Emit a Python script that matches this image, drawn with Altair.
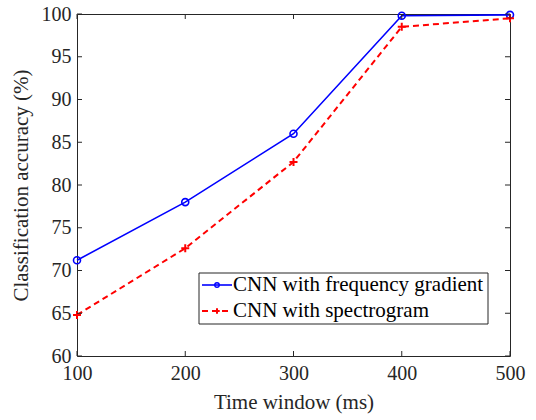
import altair as alt
import pandas as pd

time_window = [100, 200, 300, 400, 500]
acc_freq_grad = [71.2, 78.0, 86.0, 99.8, 99.9]
acc_spectrogram = [64.8, 72.6, 82.7, 98.5, 99.5]
x_ticks = [100, 200, 300, 400, 500]
y_ticks = [60, 65, 70, 75, 80, 85, 90, 95, 100]
series_names = ["CNN with frequency gradient", "CNN with spectrogram"]

W, H = 433, 342
FONT = "Liberation Serif, Times New Roman, DejaVu Serif, serif"
AX = "#262626"
BLUE = "#0000FF"
RED = "#FF0000"
PLUS = "M-1,0L1,0M0,-1L0,1"

df1 = pd.DataFrame({"t": time_window, "acc": acc_freq_grad})
df2 = pd.DataFrame({"t": time_window, "acc": acc_spectrogram})
dfx = pd.DataFrame({"t": x_ticks})
dfy = pd.DataFrame({"acc": y_ticks})

xs = alt.Scale(domain=[100, 500], nice=False)
ys = alt.Scale(domain=[60, 100], nice=False)

x_enc = alt.X("t:Q", scale=xs, axis=alt.Axis(values=x_ticks, title="Time window (ms)", format="d",
                                            labelFlush=False, labelPadding=7, titlePadding=8))
y_enc = alt.Y("acc:Q", scale=ys, axis=alt.Axis(values=y_ticks, title="Classification accuracy (%)", format="d",
                                              labelFlush=False, labelPadding=6, titlePadding=10))

line1 = alt.Chart(df1).mark_line(color=BLUE, strokeWidth=1.6).encode(x=x_enc, y=y_enc)
pts1 = alt.Chart(df1).mark_point(shape="circle", color=BLUE, filled=False, size=49, strokeWidth=1.6, opacity=1).encode(x="t:Q", y="acc:Q")
line2 = alt.Chart(df2).mark_line(color=RED, strokeWidth=2, strokeDash=[6, 4]).encode(x="t:Q", y="acc:Q")
pts2 = alt.Chart(df2).mark_point(shape=PLUS, color=RED, filled=False, size=64, strokeWidth=2, opacity=1).encode(x="t:Q", y="acc:Q")

# inward ticks on all four sides
tk = dict(color=AX, strokeWidth=1)
tb = alt.Chart(dfx).mark_rule(**tk).encode(x="t:Q", y=alt.value(H), y2=alt.value(H - 5))
tt = alt.Chart(dfx).mark_rule(**tk).encode(x="t:Q", y=alt.value(0), y2=alt.value(5))
tl = alt.Chart(dfy).mark_rule(**tk).encode(y="acc:Q", x=alt.value(0), x2=alt.value(5))
tr = alt.Chart(dfy).mark_rule(**tk).encode(y="acc:Q", x=alt.value(W), x2=alt.value(W - 5))

# legend box
LX0, LX1, LY0, LY1 = 122, 411, 259, 310
one = dfx.head(1)
leg_box = alt.Chart(one).mark_rect(fill="white", stroke=AX, strokeWidth=1).encode(
    x=alt.value(LX0), x2=alt.value(LX1), y=alt.value(LY0), y2=alt.value(LY1))
r1 = 271
r2 = 297
leg_l1 = alt.Chart(one).mark_rule(color=BLUE, strokeWidth=1.6).encode(
    x=alt.value(125), x2=alt.value(155), y=alt.value(r1))
leg_p1 = alt.Chart(one).mark_point(shape="circle", color=BLUE, filled=False, size=20, strokeWidth=1.4, opacity=1).encode(
    x=alt.value(140), y=alt.value(r1))
leg_t1 = alt.Chart(one).mark_text(text=series_names[0], font=FONT, fontSize=21, align="left", baseline="middle", color="black").encode(
    x=alt.value(156), y=alt.value(r1))
leg_l2 = alt.Chart(one).mark_rule(color=RED, strokeWidth=2, strokeDash=[6, 4]).encode(
    x=alt.value(125), x2=alt.value(155), y=alt.value(r2))
leg_p2 = alt.Chart(one).mark_point(shape=PLUS, color=RED, filled=False, size=30, strokeWidth=2, opacity=1).encode(
    x=alt.value(140), y=alt.value(r2))
leg_t2 = alt.Chart(one).mark_text(text=series_names[1], font=FONT, fontSize=21, align="left", baseline="middle", color="black").encode(
    x=alt.value(156), y=alt.value(r2))

chart = alt.layer(
    line1, line2, pts1, pts2, tb, tt, tl, tr,
    leg_box, leg_l1, leg_p1, leg_t1, leg_l2, leg_p2, leg_t2,
).properties(
    width=W, height=H,
    autosize=alt.AutoSizeParams(type="none"),
    padding={"left": 77, "top": 14, "right": 26, "bottom": 64},
    background="white",
).configure(
    font=FONT,
).configure_view(
    stroke=AX, strokeWidth=1,
).configure_axis(
    grid=False, ticks=False, domain=False,
    labelFont=FONT, labelFontSize=20, labelColor=AX,
    titleFont=FONT, titleFontSize=21, titleFontWeight="normal", titleColor=AX,
)

chart.save("out.html", embed_options={"renderer": "svg", "actions": False})
